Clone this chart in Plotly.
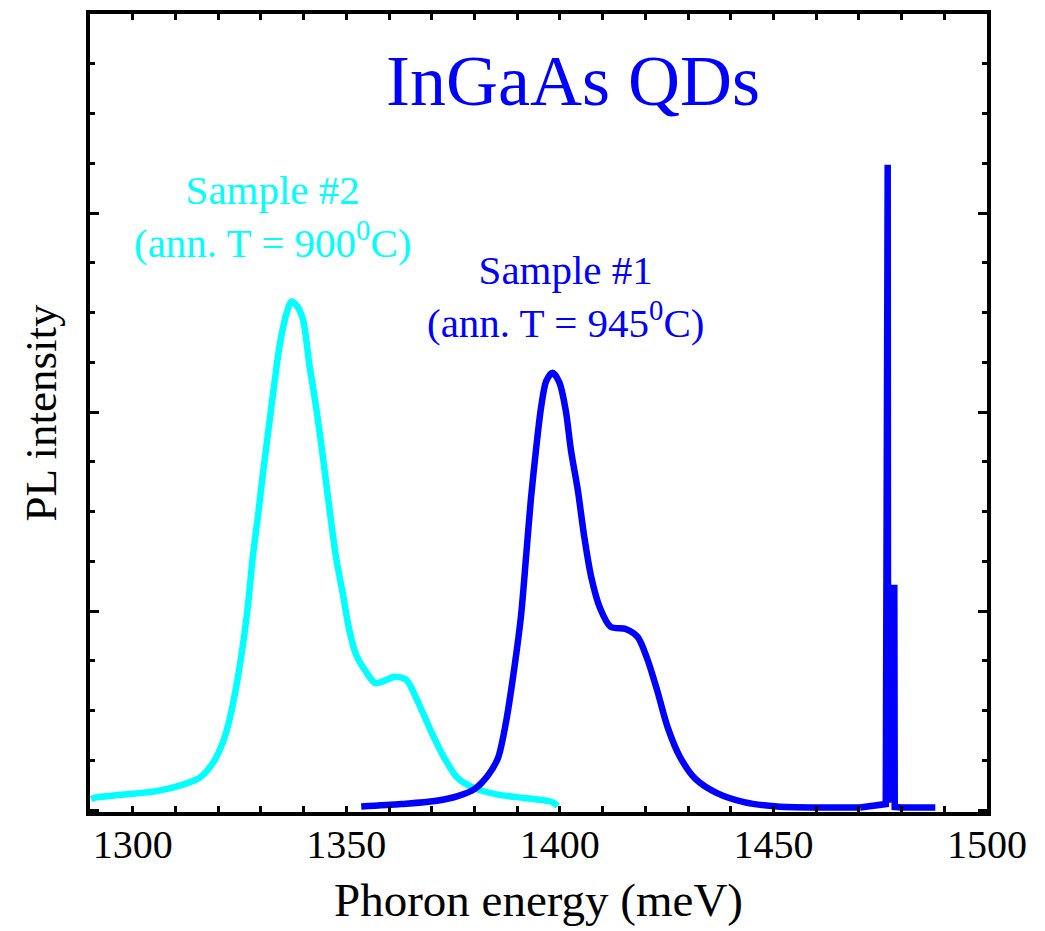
import plotly.graph_objects as go

# ---- data ----
energy_s2 = [1290.3, 1291.2, 1297.8, 1305.6, 1311.8, 1315.7, 1318.8, 1321.1, 1322.7, 1324.3,
             1325.8, 1327.0, 1328.1, 1329.3, 1330.5, 1332.0, 1333.2, 1334.4, 1335.9, 1337.1,
             1338.3, 1339.8, 1341.4, 1343.0, 1344.5, 1346.1, 1347.6, 1349.2, 1350.7, 1352.3,
             1354.6, 1356.8, 1359.5, 1361.3, 1364.0, 1366.8, 1369.9, 1373.0, 1376.1, 1380.0,
             1385.5, 1391.7, 1397.9, 1399.5]
pl_s2 = [0.22, 0.25, 0.31, 0.38, 0.51, 0.65, 0.95, 1.36, 1.83, 2.51,
         3.32, 4.13, 5.08, 5.89, 6.77, 7.79, 8.60, 9.34, 9.95, 10.22,
         10.15, 9.88, 8.93, 8.06, 7.11, 6.03, 5.08, 4.34, 3.62, 3.12,
         2.78, 2.55, 2.62, 2.68, 2.62, 2.17, 1.57, 1.04, 0.64, 0.44,
         0.31, 0.24, 0.17, 0.08]

energy_s1 = [1353.5, 1362.9, 1370.7, 1376.1, 1380.0, 1383.1, 1385.5, 1387.4, 1389.3, 1390.9,
             1392.1, 1393.2, 1394.4, 1395.6, 1396.8, 1398.3, 1399.9, 1401.4, 1402.6, 1404.2,
             1405.7, 1407.3, 1409.4, 1411.9, 1415.4, 1418.2, 1420.5, 1422.8, 1425.2, 1428.1,
             1431.8, 1436.8, 1443.1, 1450.9, 1460.2, 1470.3, 1475.0, 1476.3, 1476.75, 1476.85,
             1478.3, 1478.4, 1480.0, 1487.9]
pl_s1 = [0.07, 0.12, 0.18, 0.28, 0.42, 0.69, 1.04, 1.77, 2.83, 3.90,
         5.10, 6.23, 7.23, 8.09, 8.62, 8.79, 8.59, 8.02, 7.23, 6.43,
         5.50, 4.70, 4.06, 3.68, 3.64, 3.48, 3.03, 2.40, 1.67, 1.07,
         0.62, 0.34, 0.16, 0.07, 0.05, 0.05, 0.09, 0.12, 12.97, 0.15,
         4.53, 0.06, 0.05, 0.05]

x_tickvals = [1300, 1350, 1400, 1450, 1500]
x_ticktext = ["1300", "1350", "1400", "1450", "1500"]

CYAN = "#00FFFF"
BLUE = "#0000FF"
FONT = "Liberation Serif"
LW = 6.5

# split index: smooth band part vs. sharp laser-line part of sample #1
SPLIT = energy_s1.index(1470.3)

fig = go.Figure()
fig.add_trace(go.Scatter(x=energy_s2, y=pl_s2, mode="lines",
                         line=dict(color=CYAN, width=LW, shape="spline", smoothing=0.8),
                         showlegend=False))
fig.add_trace(go.Scatter(x=energy_s1[:SPLIT + 1], y=pl_s1[:SPLIT + 1], mode="lines",
                         line=dict(color=BLUE, width=LW, shape="spline", smoothing=0.8),
                         showlegend=False))
fig.add_trace(go.Scatter(x=energy_s1[SPLIT:], y=pl_s1[SPLIT:], mode="lines",
                         line=dict(color=BLUE, width=LW), showlegend=False))

fig.add_annotation(x=1403.1, y=14.65, xref="x", yref="y", text="InGaAs QDs",
                   showarrow=False, font=dict(family=FONT, size=72, color=BLUE),
                   xanchor="center", yanchor="middle")
fig.add_annotation(x=1332.8, y=11.92, xref="x", yref="y",
                   text="Sample #2<br>(ann. T = 900<sup>0</sup>C)",
                   showarrow=False, font=dict(family=FONT, size=41, color=CYAN),
                   xanchor="center", yanchor="middle", align="center")
fig.add_annotation(x=1401.4, y=10.32, xref="x", yref="y",
                   text="Sample #1<br>(ann. T = 945<sup>0</sup>C)",
                   showarrow=False, font=dict(family=FONT, size=41, color=BLUE),
                   xanchor="center", yanchor="middle", align="center")

fig.update_layout(
    width=1045, height=931,
    margin=dict(l=90, r=58, t=10, b=119),
    paper_bgcolor="white", plot_bgcolor="white",
    font=dict(family=FONT, color="black"),
)
fig.update_xaxes(
    range=[1290, 1500], tickvals=x_tickvals, ticktext=x_ticktext,
    ticks="inside", ticklen=6, tickwidth=3, tickcolor="black",
    minor=dict(dtick=10, tick0=1290, ticks="inside", ticklen=6, tickwidth=3, tickcolor="black"),
    showline=True, linewidth=4, linecolor="black", mirror="allticks",
    showgrid=False, zeroline=False,
    ticklabelstandoff=-6,
    tickfont=dict(family=FONT, size=40, color="black"),
    title=dict(text="Phoron energy (meV)", font=dict(family=FONT, size=47, color="black"), standoff=18),
)
fig.update_yaxes(
    range=[-0.04, 16.0], dtick=4, tick0=0,
    ticks="inside", ticklen=9, tickwidth=3, tickcolor="black",
    minor=dict(dtick=1, tick0=0, ticks="inside", ticklen=5, tickwidth=3, tickcolor="black"),
    showline=True, linewidth=4, linecolor="black", mirror="allticks",
    showgrid=False, zeroline=False, showticklabels=False,
    title=dict(text="PL intensity", font=dict(family=FONT, size=45, color="black"), standoff=16),
)

fig.write_html("out.html")
